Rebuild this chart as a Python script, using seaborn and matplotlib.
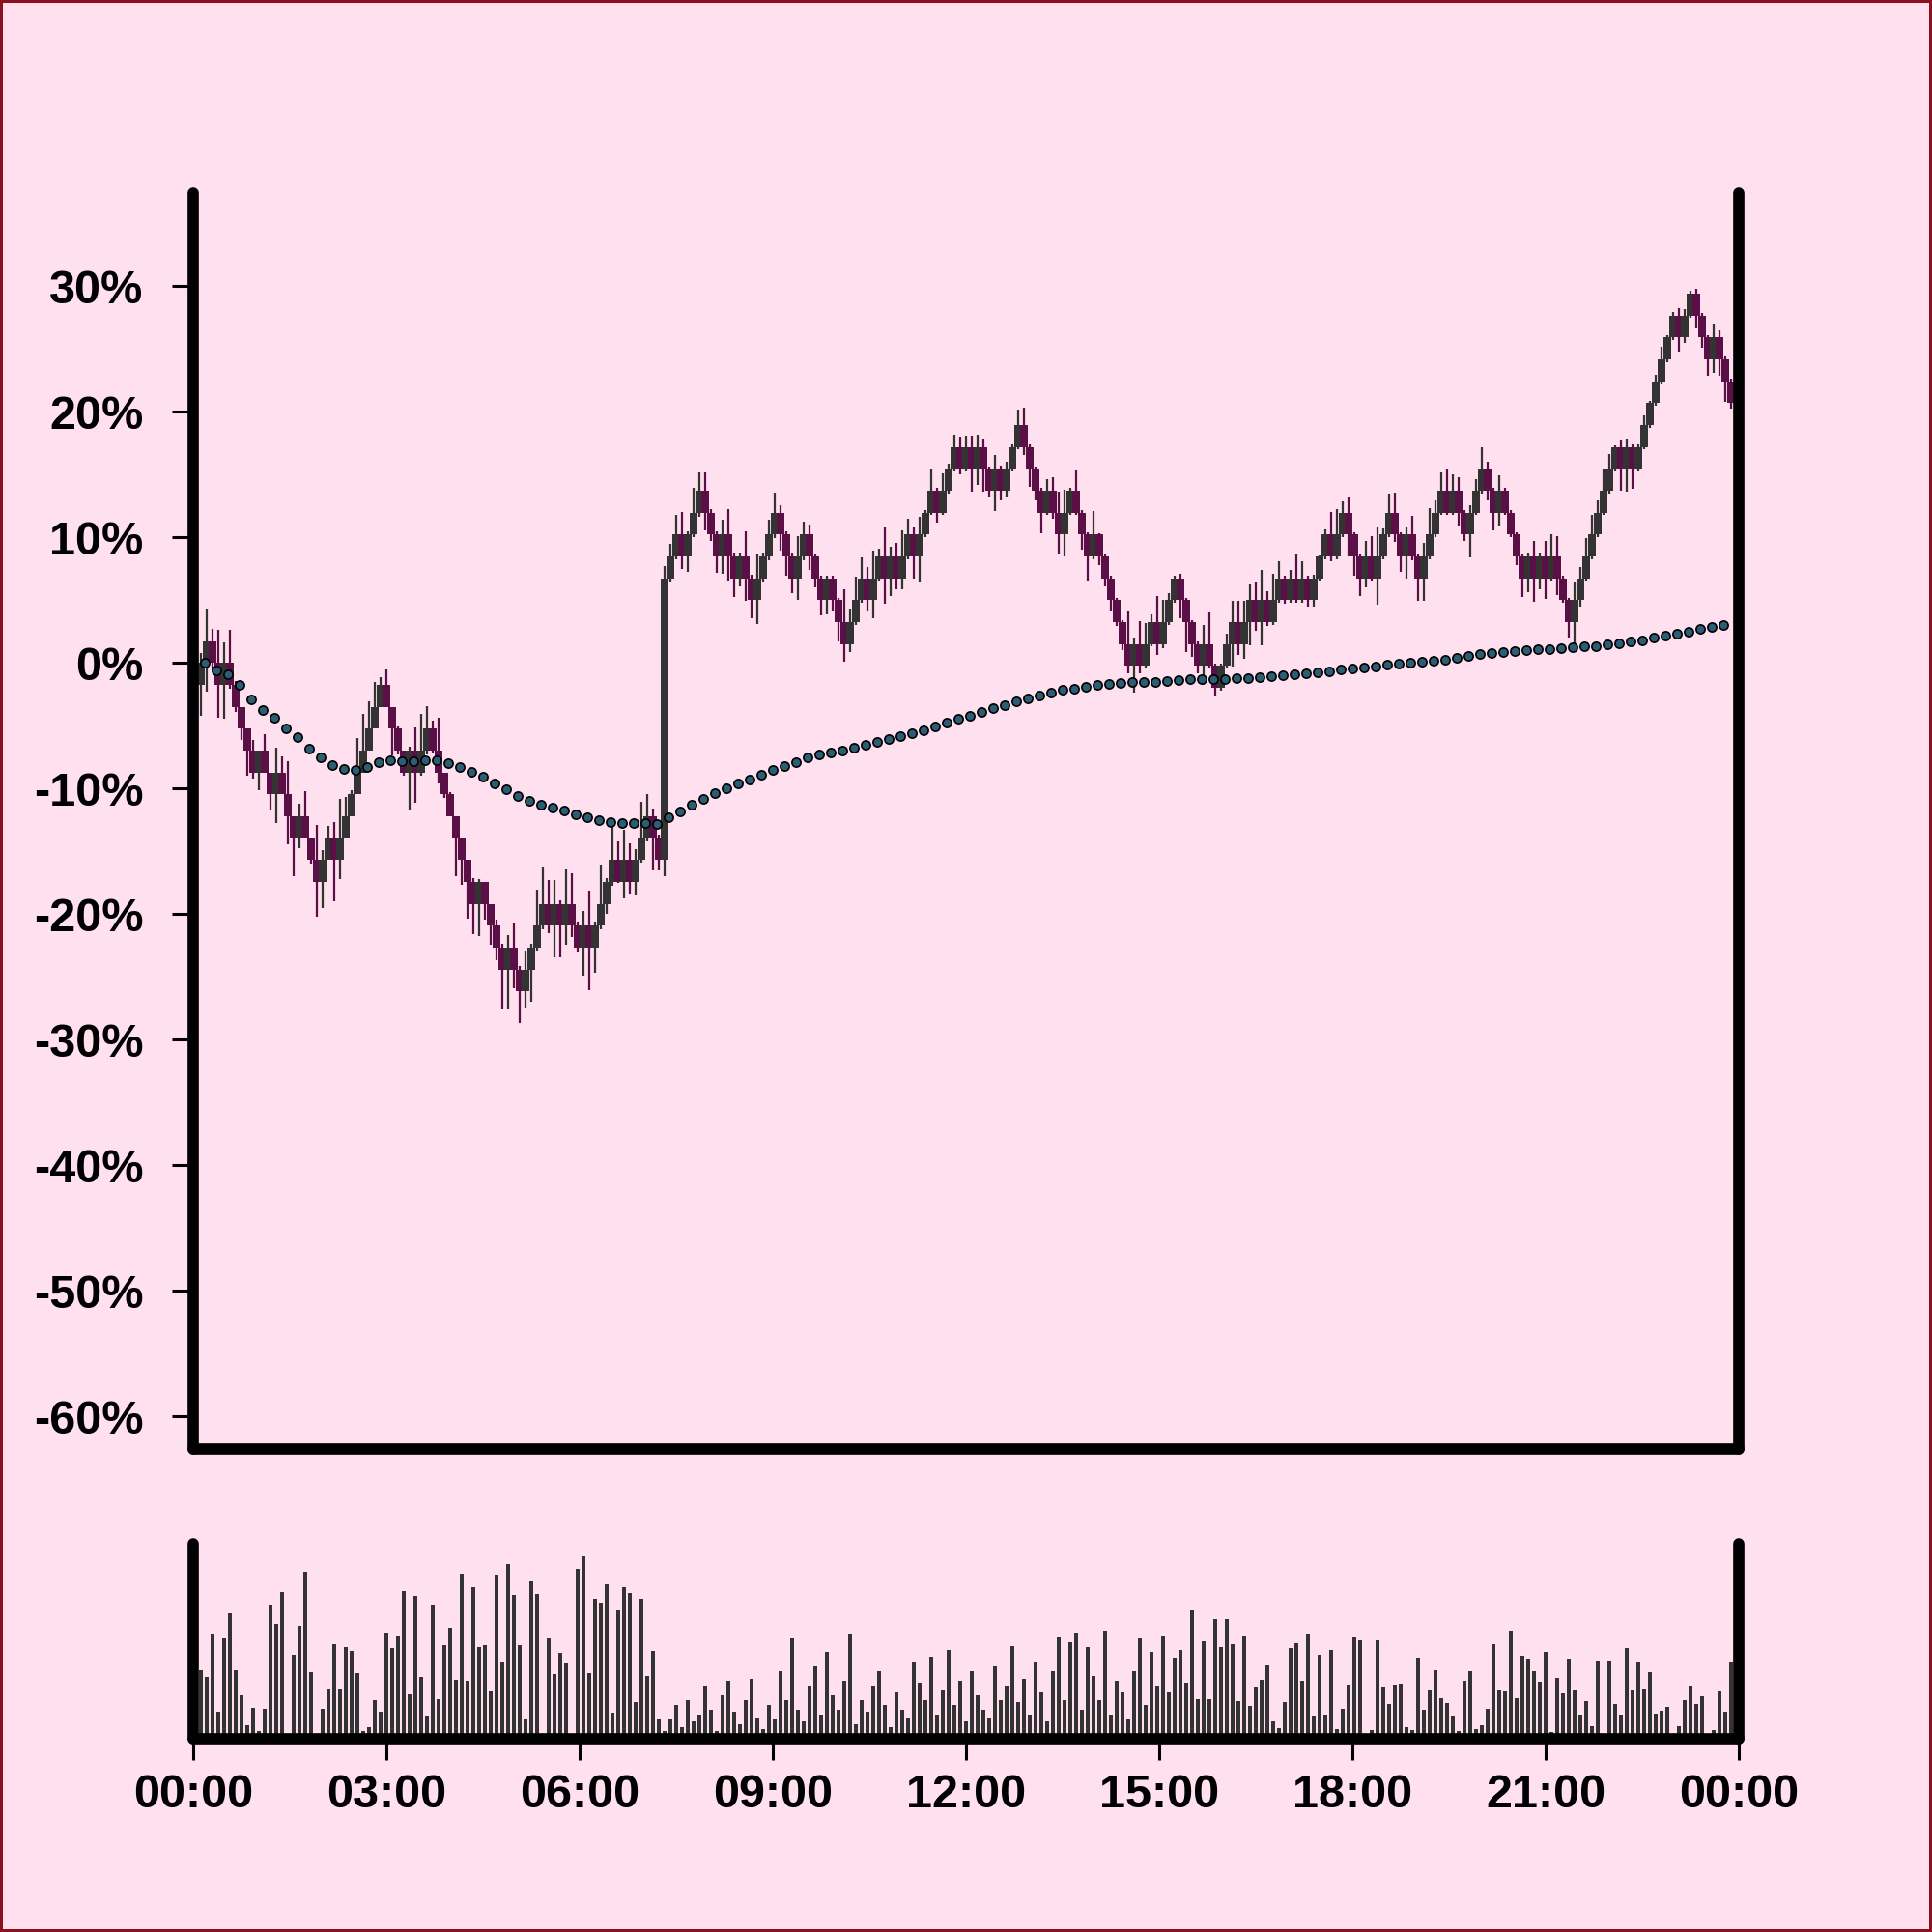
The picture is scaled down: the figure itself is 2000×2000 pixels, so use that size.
import numpy as np
import pandas as pd
import matplotlib
matplotlib.use('Agg')
import matplotlib.pyplot as plt
import matplotlib.dates as mdates
from matplotlib.ticker import FuncFormatter, FixedLocator
import seaborn as sns

BG = '#ffe0ee'
UP = '#333333'
DOWN = '#5a0f46'
DOT = '#2c5d75'

# price moves in fixed ticks (~1.744 %); the 07:20 jump shifts the grid a little
TICK_PCT = 1.744
POST_SHIFT = -0.25
first_open_tick = -1

pre_jump_ticks = [0, 1, 0, -1, 0, -1, -2, -3, -4, -5,
                  -4, -5, -6, -5, -6, -7, -8, -7, -8, -9,
                  -10, -9, -8, -9, -8, -7, -6, -5, -4, -3,
                  -2, -1, -2, -3, -4, -5, -4, -5, -4, -3,
                  -4, -5, -6, -7, -8, -9, -10, -11, -10, -11,
                  -12, -13, -14, -13, -14, -15, -14, -13, -12, -11,
                  -12, -11, -12, -11, -12, -13, -12, -13, -12, -11,
                  -10, -9, -10, -9, -10, -9, -8, -7, -8, -9]

post_jump_ticks = [4,
                   5, 6, 5, 6, 7, 8, 7, 6, 5, 6,
                   5, 4, 5, 4, 3, 4, 5, 6, 7, 6,
                   5, 4, 5, 6, 5, 4, 3, 4, 3, 2,
                   1, 2, 3, 4, 3, 4, 5, 4, 5, 4,
                   5, 6, 5, 6, 7, 8, 7, 8, 9, 10,
                   9, 10, 9, 10, 9, 8, 9, 8, 9, 10,
                   11, 10, 9, 8, 7, 8, 7, 6, 7, 8,
                   7, 6, 5, 6, 5, 4, 3, 2, 1, 0,
                   1, 0, 1, 2, 1, 2, 3, 4, 3, 2,
                   1, 0, 1, 0, -1, 0, 1, 2, 1, 2,
                   3, 2, 3, 2, 3, 4, 3, 4, 3, 4,
                   3, 4, 5, 6, 5, 6, 7, 6, 5, 4,
                   5, 4, 5, 6, 7, 6, 5, 6, 5, 4,
                   5, 6, 7, 8, 7, 8, 7, 6, 7, 8,
                   9, 8, 7, 8, 7, 6, 5, 4, 5, 4,
                   5, 4, 5, 4, 3, 2, 3, 4, 5, 6,
                   7, 8, 9, 10, 9, 10, 9, 10, 11, 12,
                   13, 14, 15, 16, 15, 16, 17, 16, 15, 14,
                   15, 14, 13, 12]

# wick length beyond the body, in %
upper_wick = [0.8, 2.6, 1.0, 2.6, 1.6, 2.6, 0.3, 0.0, 0.0, 0.8,
              0.0, 1.3, 0.0, 2.0, 1.3, 2.6, 0.0, 1.0, 2.0, 0.0,
              2.8, 0.8, 1.0, 1.3, 3.1, 1.5, 0.3, 2.7, 2.9, 2.2,
              2.0, 0.6, 1.2, 0.0, 0.2, 0.0, 0.3, 1.8, 2.9, 1.8,
              0.6, 2.6, 0.0, 0.2, 0.0, 0.0, 0.0, 0.3, 0.2, 0.0,
              0.0, 0.5, 0.3, 1.0, 2.0, 0.3, 1.5, 0.3, 2.9, 2.9,
              1.9, 1.9, 0.3, 2.7, 2.4, 0.3, 1.2, 2.8, 0.3, 3.1,
              0.3, 2.9, 1.5, 2.4, 1.3, 0.9, 2.9, 1.8, 0.6, 0.3,
              1.0, 1.0, 1.6, 1.8, 0.3, 2.0, 1.5, 1.5, 0.3, 0.3,
              1.2, 2.0, 0.3, 0.3, 2.0, 0.3, 2.0, 0.3, 1.2, 1.6,
              0.6, 0.3, 0.3, 1.6, 1.0, 0.8, 0.2, 0.2, 0.2, 0.2,
              0.2, 2.6, 1.1, 1.9, 1.7, 0.9, 2.2, 0.6, 2.3, 0.8,
              1.1, 2.1, 1.3, 0.6, 1.4, 0.2, 1.7, 0.2, 1.4, 0.4,
              1.0, 0.8, 0.9, 0.9, 1.0, 0.7, 0.2, 1.1, 0.3, 0.6,
              0.2, 1.2, 1.4, 0.2, 0.2, 0.2, 0.9, 1.1, 1.7, 1.8,
              0.2, 1.6, 0.2, 0.2, 1.9, 0.1, 0.2, 0.2, 0.2, 0.2,
              2.6, 0.5, 1.8, 1.7, 0.6, 2.1, 1.8, 0.6, 0.2, 0.4,
              0.2, 0.2, 0.2, 1.5, 2.5, 0.2, 0.2, 0.8, 1.7, 1.7,
              1.7, 1.3, 1.5, 2.4, 0.7, 2.1, 1.4, 0.2, 0.7, 2.0,
              1.4, 0.2, 0.3, 0.1, 0.4, 1.8, 2.0, 0.9, 1.2, 0.2,
              0.2, 1.2, 1.6, 2.3, 0.5, 1.5, 1.6, 0.2, 0.6, 1.5,
              0.2, 1.1, 2.1, 1.0, 1.5, 1.7, 1.3, 1.1, 0.2, 0.6,
              0.9, 1.7, 0.6, 0.2, 1.2, 0.2, 0.2, 0.2, 0.2, 0.3,
              1.2, 0.3, 1.2, 1.8, 1.6, 0.2, 0.2, 1.4, 0.9, 1.5,
              1.6, 1.0, 1.7, 1.2, 0.1, 0.5, 0.7, 0.2, 0.2, 0.8,
              0.2, 0.5, 1.0, 0.2, 0.3, 0.6, 0.5, 0.25, 0.4, 0.2,
              0.2, 1.1, 0.6, 0.2, 0.2]

lower_wick = [2.5, 2.3, 0.5, 2.6, 2.7, 0.3, 0.4, 0.9, 2.0, 0.5,
              1.4, 0.0, 1.3, 2.3, 0.0, 2.2, 3.0, 0.8, 0.0, 0.3,
              2.8, 2.1, 0.0, 3.3, 1.5, 0.0, 0.0, 0.0, 0.0, 0.0,
              0.0, 0.0, 0.0, 2.1, 0.3, 0.3, 3.0, 2.4, 0.3, 0.3,
              0.2, 0.9, 0.3, 0.0, 3.0, 2.0, 2.9, 2.4, 2.6, 1.3,
              1.5, 1.0, 3.2, 3.2, 1.5, 2.5, 1.3, 2.6, 0.2, 0.3,
              0.6, 2.5, 2.5, 1.5, 0.9, 0.4, 2.2, 3.4, 2.0, 0.3,
              0.8, 0.3, 0.1, 1.3, 0.9, 1.0, 0.2, 0.3, 2.6, 0.8,
              1.3, 0.3, 0.2, 1.0, 1.2, 0.2, 0.3, 1.4, 0.5, 1.3,
              1.4, 1.9, 1.5, 0.6, 1.8, 1.4, 1.9, 0.3, 0.3, 0.3,
              1.3, 1.5, 1.2, 1.7, 0.3, 1.1, 0.7, 1.2, 1.1, 0.9,
              1.5, 1.4, 0.6, 0.2, 0.2, 0.8, 1.4, 0.2, 2.0, 1.4,
              0.9, 0.9, 0.2, 1.8, 2.0, 0.2, 0.2, 0.8, 0.2, 0.2,
              0.2, 0.4, 0.2, 1.8, 1.3, 1.8, 0.5, 1.6, 0.8, 0.5,
              0.2, 0.2, 0.6, 1.4, 0.8, 1.6, 0.2, 0.5, 1.5, 1.7,
              0.2, 0.2, 1.2, 1.9, 0.2, 0.7, 0.6, 0.8, 0.3, 0.5,
              0.6, 2.1, 0.6, 0.2, 0.2, 0.9, 0.3, 0.2, 0.2, 1.4,
              2.4, 1.0, 0.6, 1.5, 0.2, 0.7, 0.2, 0.2, 1.8, 0.9,
              1.2, 1.8, 0.7, 1.8, 0.3, 0.2, 0.2, 0.3, 0.2, 0.2,
              0.2, 0.5, 0.5, 0.2, 0.2, 0.4, 0.2, 0.2, 1.7, 1.5,
              1.4, 0.7, 0.2, 2.1, 0.2, 0.2, 0.6, 1.2, 1.8, 0.3,
              1.8, 1.8, 0.2, 0.2, 0.2, 0.2, 0.2, 1.1, 0.5, 1.8,
              0.2, 0.2, 0.8, 1.4, 1.0, 0.2, 0.2, 0.7, 1.5, 1.1,
              1.9, 0.9, 1.6, 0.2, 1.3, 0.2, 1.2, 1.8, 0.5, 0.2,
              0.2, 0.2, 0.2, 0.2, 0.2, 1.7, 1.8, 1.6, 0.2, 0.2,
              0.2, 0.2, 0.2, 0.2, 0.2, 1.1, 0.4, 0.2, 1.0, 0.8,
              1.3, 1.1, 1.3, 1.6, 0.4]

volume = [71, 64, 108, 28, 104, 130, 71, 45, 14, 32,
          8, 31, 138, 119, 152, 0, 87, 117, 173, 69,
          0, 31, 52, 98, 52, 95, 91, 68, 8, 12,
          40, 28, 110, 94, 106, 153, 46, 148, 64, 24,
          139, 41, 97, 115, 61, 171, 60, 157, 95, 97,
          49, 170, 80, 181, 149, 97, 21, 163, 150, 0,
          104, 67, 89, 78, 0, 176, 189, 68, 145, 141,
          160, 27, 133, 157, 151, 38, 145, 65, 91, 21,
          8, 20, 35, 12, 40, 18, 25, 55, 30, 8,
          45, 60, 28, 15, 40, 62, 22, 10, 35, 20,
          70, 40, 104, 30, 18, 55, 75, 25, 90, 45,
          30, 60, 109, 15, 40, 28, 55, 70, 35, 12,
          48, 30, 22, 80, 58, 40, 85, 25, 50, 92,
          35, 60, 18, 70, 45, 30, 22, 75, 40, 55,
          96, 38, 62, 25, 80, 48, 18, 70, 105, 40,
          100, 110, 30, 95, 65, 40, 112, 25, 60, 48,
          20, 70, 104, 35, 90, 55, 106, 48, 84, 92,
          58, 133, 41, 101, 41, 124, 95, 124, 98, 39,
          106, 34, 54, 61, 76, 18, 11, 38, 94, 99,
          60, 109, 24, 87, 25, 92, 10, 31, 56, 105,
          102, 0, 9, 102, 54, 36, 56, 57, 12, 9,
          84, 30, 50, 71, 42, 37, 24, 8, 60, 70,
          10, 14, 31, 98, 50, 49, 112, 42, 86, 83,
          70, 59, 90, 7, 63, 47, 83, 51, 25, 39,
          13, 81, 0, 81, 36, 25, 94, 51, 79, 52,
          69, 26, 29, 33, 0, 13, 40, 55, 36, 44,
          0, 9, 49, 28, 80]

# dotted running average line
trend = [0.0, -0.62, -0.9, -1.77, -2.92, -3.74, -4.38, -5.23, -5.92, -6.8,
         -7.51, -8.15, -8.46, -8.49, -8.26, -7.9, -7.74, -7.8, -7.85, -7.72,
         -7.77, -7.97, -8.26, -8.69, -9.08, -9.59, -10.07, -10.58, -11.0, -11.26,
         -11.5, -11.74, -12.05, -12.32, -12.56, -12.65, -12.72, -12.79, -12.78, -12.84,
         -12.3, -11.84, -11.31, -10.81, -10.36, -9.96, -9.57, -9.29, -8.92, -8.53,
         -8.21, -7.88, -7.56, -7.33, -7.15, -6.97, -6.74, -6.56, -6.33, -6.08,
         -5.85, -5.62, -5.36, -5.08, -4.77, -4.46, -4.18, -3.9, -3.62, -3.36,
         -3.03, -2.8, -2.59, -2.38, -2.15, -2.03, -1.88, -1.75, -1.64, -1.59,
         -1.54, -1.54, -1.49, -1.41, -1.36, -1.31, -1.28, -1.28, -1.26, -1.23,
         -1.18, -1.1, -1.03, -0.95, -0.87, -0.82, -0.74, -0.67, -0.54, -0.46,
         -0.36, -0.26, -0.13, -0.08, 0.0, 0.1, 0.2, 0.28, 0.42, 0.57,
         0.67, 0.76, 0.88, 0.94, 0.99, 1.06, 1.13, 1.18, 1.23, 1.31,
         1.36, 1.46, 1.59, 1.69, 1.82, 2.0, 2.15, 2.33, 2.51, 2.74,
         2.9, 3.03]

day0 = pd.Timestamp('2024-01-01')
candle_times = pd.date_range('2024-01-01 00:06:56', periods=len(volume), freq='324s')
trend_times = pd.date_range('2024-01-01 00:10:30', periods=len(trend), freq='648s')
tick_times = pd.date_range(day0, periods=9, freq='3h')

close = np.array([t * TICK_PCT for t in pre_jump_ticks] +
                 [t * TICK_PCT + POST_SHIFT for t in post_jump_ticks])
open_ = np.concatenate([[first_open_tick * TICK_PCT], close[:-1]])
high = np.maximum(open_, close) + np.array(upper_wick)
low = np.minimum(open_, close) - np.array(lower_wick)
colors = np.where(close >= open_, UP, DOWN)

x = mdates.date2num(candle_times)
xt = mdates.date2num(trend_times)

sns.set_theme(style='white', rc={'axes.facecolor': BG, 'figure.facecolor': BG})
plt.rcParams['font.family'] = ['Liberation Sans', 'DejaVu Sans']
plt.rcParams['font.weight'] = 'bold'

fig = plt.figure(figsize=(10, 10), dpi=200)
fig.patch.set_edgecolor('#8b1020')
fig.patch.set_linewidth(1.5)
ax = fig.add_axes([0.1, 0.25, 0.8, 0.65])
axv = fig.add_axes([0.1, 0.1, 0.8, 0.101])

# candles
ax.vlines(x, low, high, colors=colors, linewidth=0.8, zorder=1)
ax.bar(x, close - open_, bottom=open_, width=0.0052, color=colors, linewidth=0, zorder=1.5)
sns.scatterplot(x=xt, y=trend, ax=ax, s=11, color=DOT, edgecolor='black',
                linewidth=0.6, zorder=3)

# volume
axv.bar(x, volume, width=0.0025, color=UP, linewidth=0)

xlim = (mdates.date2num(day0), mdates.date2num(day0 + pd.Timedelta(days=1)))
for a in (ax, axv):
    a.set_xlim(xlim)
    a.set_xlabel('')
    a.set_ylabel('')
    a.grid(False)
    a.spines['top'].set_visible(False)
    for s in ('left', 'right', 'bottom'):
        a.spines[s].set_linewidth(4.2)
        a.spines[s].set_color('black')
        a.spines[s].set_capstyle('round')

ax.set_ylim(-62.6, 37.4)
ax.yaxis.set_major_locator(FixedLocator(list(range(-60, 31, 10))))
ax.yaxis.set_major_formatter(FuncFormatter(lambda v, _: f'{v:.0f}%'))
ax.tick_params(axis='y', direction='out', left=True, length=8, width=1.1,
               pad=10.5, labelsize=17.5, color='black', labelcolor='black')
ax.tick_params(axis='x', bottom=False, labelbottom=False)

axv.set_ylim(0, 202)
axv.tick_params(axis='y', left=False, labelleft=False)
axv.xaxis.set_major_locator(FixedLocator(mdates.date2num(tick_times)))
axv.xaxis.set_major_formatter(mdates.DateFormatter('%H:%M'))
axv.tick_params(axis='x', direction='out', bottom=True, length=8, width=1.1,
                pad=5, labelsize=17.5, color='black', labelcolor='black')
for lab in ax.get_yticklabels() + axv.get_xticklabels():
    lab.set_fontweight('bold')

fig.savefig('out.png', dpi=200, facecolor=BG, edgecolor=fig.patch.get_edgecolor())
